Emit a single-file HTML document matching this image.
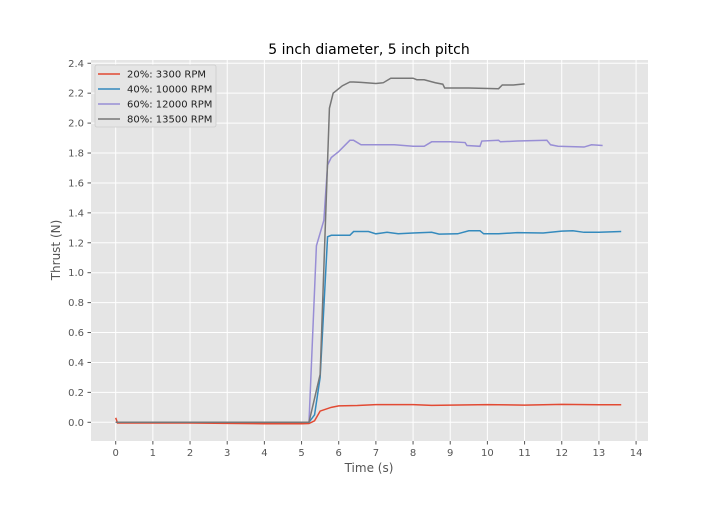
<!DOCTYPE html>
<html><head><meta charset="utf-8"><style>
body{margin:0;background:#fff;font-family:"Liberation Sans","DejaVu Sans",sans-serif}
svg text{font-family:"DejaVu Sans","Liberation Sans",sans-serif}
</style></head><body>
<svg id="chart" width="720" height="504" xmlns="http://www.w3.org/2000/svg">
<rect width="720" height="504" fill="#fff"/>
<rect x="91" y="60" width="557" height="381" fill="#e5e5e5"/>
<g id="grid"></g><g id="ticks"></g><g id="series"></g>
<text x="369" y="54" text-anchor="middle" font-size="14" fill="#000">5 inch diameter, 5 inch pitch</text>
<text x="369" y="472" text-anchor="middle" font-size="12" fill="#555">Time (s)</text>
<text transform="translate(60,250) rotate(-90)" text-anchor="middle" font-size="12" fill="#555">Thrust (N)</text>
<g id="legend"></g>
</svg>
<script>
const xTicks=[0,1,2,3,4,5,6,7,8,9,10,11,12,13,14];
const yTicks=[0,0.2,0.4,0.6,0.8,1.0,1.2,1.4,1.6,1.8,2.0,2.2,2.4];
const seriesNames=["20%: 3300 RPM","40%: 10000 RPM","60%: 12000 RPM","80%: 13500 RPM"];
const seriesColors=["#e24a33","#348abd","#988ed5","#777777"];
const t20=[0,0.05,1,2,3,4,5,5.2,5.35,5.5,5.8,6.0,6.5,7.0,8.0,8.5,9.0,10.0,11.0,12.0,13.0,13.6];
const v20=[0.03,-0.005,-0.005,-0.005,-0.007,-0.01,-0.01,-0.008,0.01,0.075,0.1,0.11,0.112,0.118,0.118,0.113,0.115,0.118,0.115,0.12,0.117,0.117];
const t40=[0,5.2,5.35,5.5,5.7,5.8,6.3,6.4,6.8,7.0,7.3,7.6,8.0,8.5,8.7,9.2,9.5,9.8,9.9,10.3,10.8,11.5,12.0,12.3,12.6,13.0,13.6];
const v40=[0,0,0.05,0.3,1.24,1.25,1.25,1.275,1.275,1.26,1.27,1.26,1.265,1.27,1.258,1.26,1.28,1.28,1.26,1.26,1.268,1.265,1.278,1.28,1.27,1.27,1.275];
const t60=[0,5.2,5.4,5.6,5.7,5.8,6.0,6.3,6.4,6.6,7.5,8.0,8.3,8.5,9.0,9.4,9.45,9.8,9.85,10.3,10.35,10.8,11.6,11.7,11.9,12.6,12.8,13.1];
const v60=[0,0,1.18,1.35,1.72,1.77,1.81,1.885,1.885,1.855,1.855,1.845,1.845,1.875,1.875,1.87,1.85,1.845,1.88,1.885,1.875,1.88,1.885,1.855,1.845,1.84,1.855,1.85];
const t80=[0,5.2,5.5,5.75,5.85,5.95,6.1,6.3,6.4,6.6,7.0,7.2,7.4,8.0,8.1,8.3,8.6,8.8,8.85,9.5,10.3,10.4,10.7,11.0];
const v80=[0,0,0.32,2.1,2.2,2.22,2.25,2.275,2.275,2.272,2.265,2.27,2.3,2.3,2.29,2.29,2.27,2.26,2.235,2.235,2.23,2.255,2.255,2.262];
const X=v=>115.7+v*37.17, Y=v=>422.3-v*149.6;
const NS="http://www.w3.org/2000/svg";
function mk(tag,attrs,parent){const e=document.createElementNS(NS,tag);for(const k in attrs)e.setAttribute(k,attrs[k]);parent.appendChild(e);return e;}
const grid=document.getElementById('grid'),ticks=document.getElementById('ticks');
xTicks.forEach(t=>{
 const g=mk('line',{x1:X(t),x2:X(t),y1:60,y2:441,stroke:'#fff','stroke-width':1},grid);
 
 
 mk('line',{x1:X(t),x2:X(t),y1:441,y2:444.5,stroke:'#555'},ticks);
 const l=mk('text',{x:X(t),y:456,'text-anchor':'middle','font-size':10,fill:'#555'},ticks);
 l.textContent=t;
 
 
});
yTicks.forEach(t=>{
 const g=mk('line',{x1:91,x2:648,y1:Y(t),y2:Y(t),stroke:'#fff','stroke-width':1},grid);
 
 
 mk('line',{x1:87.5,x2:91,y1:Y(t),y2:Y(t),stroke:'#555'},ticks);
 const l=mk('text',{x:84,y:Y(t)+3.5,'text-anchor':'end','font-size':10,fill:'#555'},ticks);
 l.textContent=t.toFixed(1);
 
 
});
const data=[[t20,v20],[t40,v40],[t60,v60],[t80,v80]];
const ser=document.getElementById('series');
data.forEach((d,i)=>{
 const p=mk('polyline',{points:d[0].map((t,j)=>X(t)+','+Y(d[1][j])).join(' '),fill:'none',stroke:seriesColors[i],'stroke-width':1.5},ser);
 
 
});
const lg=document.getElementById('legend');
mk('rect',{x:95,y:65,width:121,height:62,rx:2,fill:'#e5e5e5',stroke:'#ccc','stroke-width':0.8},lg);
seriesNames.forEach((n,i)=>{
 const y=74+i*15;
 const ln=mk('line',{x1:98,x2:120,y1:y,y2:y,stroke:seriesColors[i],'stroke-width':1.5},lg);
 
 
 const tx=mk('text',{x:127,y:y+3.5,'font-size':10,fill:'#222'},lg);
 tx.textContent=n;
 
 
});
</script>
</body></html>
